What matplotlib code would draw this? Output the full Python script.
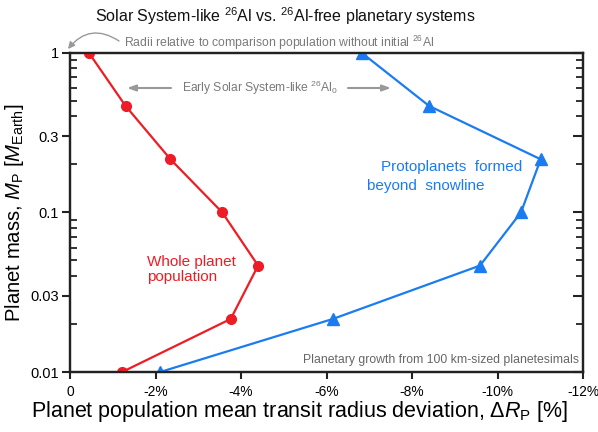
import matplotlib
matplotlib.use("Agg")
import matplotlib.pyplot as plt
from matplotlib.ticker import FixedLocator, NullFormatter, FixedFormatter

plt.rcParams['font.family'] = ['Liberation Sans', 'DejaVu Sans']
plt.rcParams['mathtext.fontset'] = 'custom'
plt.rcParams['mathtext.rm'] = 'Liberation Sans'
plt.rcParams['mathtext.it'] = 'Liberation Sans:italic'
plt.rcParams['mathtext.bf'] = 'Liberation Sans:bold'

# Data
mass = [1.0, 0.464, 0.215, 0.1, 0.0464, 0.0215, 0.01]
whole_dev = [-0.44, -1.30, -2.35, -3.56, -4.40, -3.76, -1.22]
proto_dev = [-6.82, -8.40, -11.01, -10.55, -9.59, -6.15, -2.11]
x_ticks = [0, -2, -4, -6, -8, -10, -12]
x_ticklabels = ['0', '-2%', '-4%', '-6%', '-8%', '-10%', '-12%']
y_ticks = [1, 0.3, 0.1, 0.03, 0.01]
y_ticklabels = ['1', '0.3', '0.1', '0.03', '0.01']
y_minor = [0.02, 0.04, 0.05, 0.06, 0.07, 0.08, 0.09,
           0.2, 0.4, 0.5, 0.6, 0.7, 0.8, 0.9]

RED = '#ee1c25'
BLUE = '#1a7cf0'
GRAY = '#7a7a7a'
DARK = '#222222'

fig = plt.figure(figsize=(5.98, 4.32), dpi=100)
ax = fig.add_axes([70/598, 1-372/432, (583-70)/598, (372-52.7)/432])

ax.plot(whole_dev, mass, color=RED, lw=1.6, marker='o', ms=7, zorder=3)
ax.plot(proto_dev, mass, color=BLUE, lw=1.6, marker='^', ms=8, zorder=3)

ax.set_yscale('log')
ax.set_xlim(0, -12)
ax.set_ylim(0.01, 1)

ax.xaxis.set_major_locator(FixedLocator(x_ticks))
ax.xaxis.set_major_formatter(FixedFormatter(x_ticklabels))
ax.yaxis.set_major_locator(FixedLocator(y_ticks))
ax.yaxis.set_major_formatter(FixedFormatter(y_ticklabels))
ax.yaxis.set_minor_locator(FixedLocator(y_minor))
ax.yaxis.set_minor_formatter(NullFormatter())
ax.xaxis.set_minor_locator(FixedLocator([]))

for s in ax.spines.values():
    s.set_linewidth(1.6)
    s.set_color(DARK)

ax.tick_params(axis='x', which='major', direction='out', length=5, width=1.5,
               color=DARK, labelsize=9.9, pad=4, top=False)
ax.tick_params(axis='y', which='major', direction='out', length=6, width=1.5,
               color=DARK, labelsize=10.5, right=False, pad=2)
ax.tick_params(axis='y', which='minor', direction='in', length=5, width=1.3,
               color=DARK, right=False)

# right-side inward ticks
ax2 = ax.twinx()
ax2.set_yscale('log')
ax2.set_ylim(0.01, 1)
ax2.yaxis.set_major_locator(FixedLocator(y_ticks))
ax2.yaxis.set_minor_locator(FixedLocator(y_minor))
ax2.yaxis.set_major_formatter(NullFormatter())
ax2.yaxis.set_minor_formatter(NullFormatter())
ax2.tick_params(axis='y', which='major', direction='in', length=7, width=1.5, color=DARK)
ax2.tick_params(axis='y', which='minor', direction='in', length=5, width=1.3, color=DARK)
for s in ax2.spines.values():
    s.set_linewidth(1.6)
    s.set_color(DARK)

ax.set_xlabel(r'Planet population mean transit radius deviation, $\Delta R_\mathrm{P}$ [%]',
              fontsize=15.5)
ax.xaxis.set_label_coords((299.5 - 70) / 513, -(412 - 372) / 319.3)
ax.xaxis.label.set_va('center')
ax.set_ylabel(r'Planet mass, $M_\mathrm{P}$ [$M_\mathrm{Earth}$]', fontsize=14.6, labelpad=3)

fig.text(285/598, 1-16/432, r'Solar System-like $^{26}$Al vs. $^{26}$Al-free planetary systems',
         ha='center', va='center', fontsize=11.5, color='#111111')

# top annotation
fig.text(124/598, 1-43/432, r'Radii relative to comparison population without initial $^{26}$Al',
         ha='left', va='center', fontsize=8.8, color=GRAY)
ax.annotate('', xy=(68, 432-49), xycoords='figure pixels',
            xytext=(119, 432-41), textcoords='figure pixels',
            arrowprops=dict(arrowstyle='-|>,head_length=0.4,head_width=0.2', color='#999999',
                            lw=1.0, connectionstyle='arc3,rad=0.45', shrinkA=0, shrinkB=0),
            annotation_clip=False)

# Early Solar System-like arrows
fig.text(260/598, 1-88/432, r'Early Solar System-like $^{26}$Al$_0$',
         ha='center', va='center', fontsize=8.7, color=GRAY)
for x0, x1 in [(171, 127), (348, 391)]:
    ax.annotate('', xy=(x1, 432-88), xycoords='figure pixels',
                xytext=(x0, 432-88), textcoords='figure pixels',
                arrowprops=dict(arrowstyle='-|>,head_length=0.5,head_width=0.18', color='#999999',
                                lw=1.5, shrinkA=0, shrinkB=0),
                annotation_clip=False)

fig.text(147/598, 1-269.5/432, 'Whole planet\npopulation', ha='left', va='center',
         fontsize=11, color=RED, linespacing=1.05)
fig.text(381/598, 1-167/432, 'Protoplanets  formed', ha='left', va='center',
         fontsize=11, color=BLUE)
fig.text(367/598, 1-186/432, 'beyond  snowline', ha='left', va='center',
         fontsize=11, color=BLUE)

fig.text(579/598, 1-360/432, 'Planetary growth from 100 km-sized planetesimals',
         ha='right', va='center', fontsize=8.8, color='#666666')

fig.savefig('out.png', dpi=100)
